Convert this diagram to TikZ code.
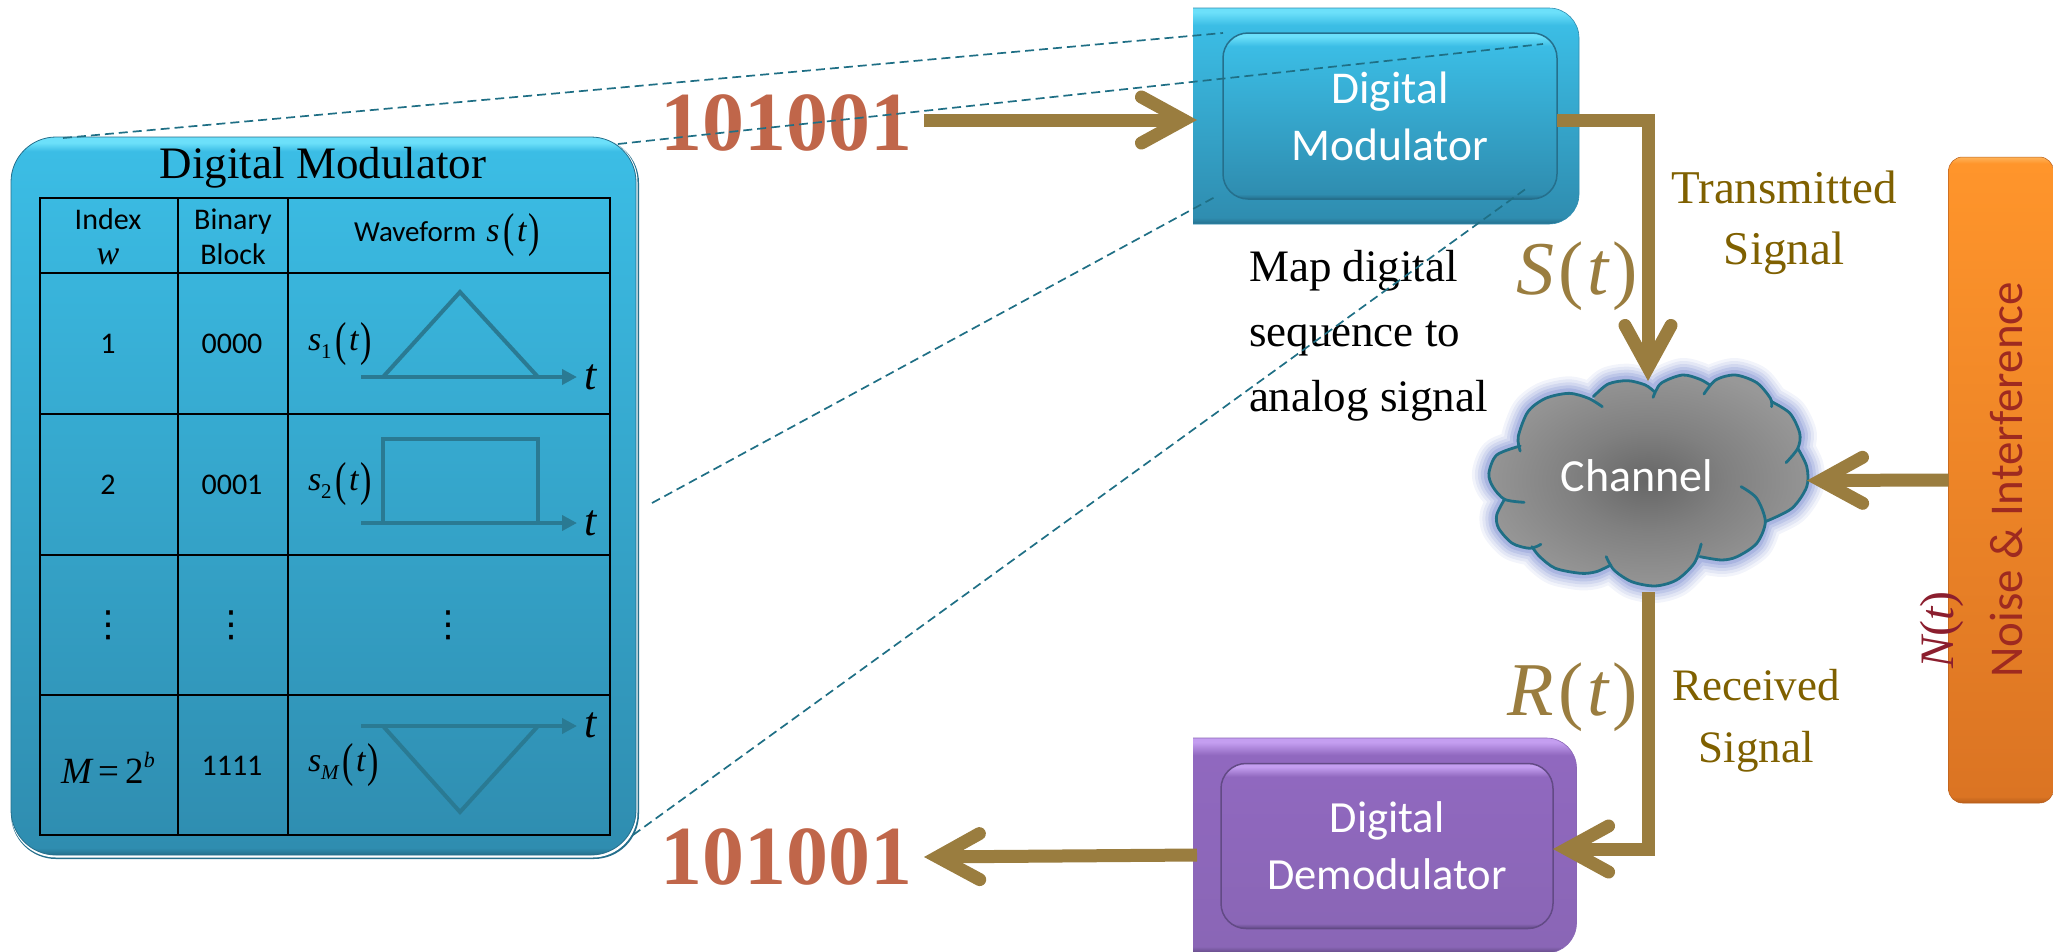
\documentclass[tikz,border=0pt]{standalone}
\usepackage{fontspec}
\usepackage{graphicx}
\usetikzlibrary{arrows.meta}
\setmainfont{Carlito}
\newfontfamily\srf{Liberation Serif}
\newfontfamily\djv{DejaVu Sans}
\definecolor{dashc}{HTML}{1F6F85}
\definecolor{wavec}{HTML}{2A7A93}
\definecolor{goldc}{HTML}{9A7D3F}
\definecolor{goldt}{HTML}{7F6000}
\definecolor{bitc}{HTML}{C0664A}
\definecolor{noisec}{HTML}{9E2A20}
\definecolor{nc}{HTML}{8B1E2E}
\definecolor{bA}{HTML}{256F8C}\definecolor{bB}{HTML}{2F8DB0}\definecolor{bC}{HTML}{3BBDE5}\definecolor{bD}{HTML}{6CE0FA}
\definecolor{pA}{HTML}{624A85}\definecolor{pB}{HTML}{8A66B6}\definecolor{pC}{HTML}{9068BF}\definecolor{pD}{HTML}{C49EF0}
\definecolor{oA}{HTML}{B85F1C}\definecolor{oB}{HTML}{DB7423}\definecolor{oC}{HTML}{FF952B}\definecolor{oD}{HTML}{FFB45A}
\definecolor{cA}{HTML}{666666}\definecolor{cB}{HTML}{808080}\definecolor{cC}{HTML}{989898}
\definecolor{cloudl}{HTML}{1F6F85}\definecolor{glow}{HTML}{8494D4}
\pgfdeclareverticalshading{bluebev}{100bp}{color(0bp)=(bA);color(25bp)=(bA);color(26.5bp)=(bB);color(71bp)=(bC);color(74bp)=(bD);color(75bp)=(bD);color(100bp)=(bD)}
\pgfdeclareverticalshading{tblbev}{100bp}{color(0bp)=(bA);color(25bp)=(bA);color(25.5bp)=(bB);color(74bp)=(bC);color(74.6bp)=(bD);color(75bp)=(bD);color(100bp)=(bD)}
\pgfdeclareverticalshading{purbev}{100bp}{color(0bp)=(pA);color(25bp)=(pA);color(26.5bp)=(pB);color(71bp)=(pC);color(74bp)=(pD);color(75bp)=(pD);color(100bp)=(pD)}
\pgfdeclareverticalshading{orbev}{100bp}{color(0bp)=(oA);color(25bp)=(oA);color(25.5bp)=(oB);color(74.5bp)=(oC);color(75bp)=(oD);color(100bp)=(oD)}
\pgfdeclareradialshading{cloudsh}{\pgfpoint{0bp}{0bp}}{color(0bp)=(cA);color(12bp)=(cB);color(27bp)=(cC);color(50bp)=(cC)}
\tikzset{
 every node/.style={inner sep=0pt,outer sep=0pt},
 bluebox/.style={rounded corners=#1,shading=bluebev,draw=bA,line width=1.5pt},
 purbox/.style={rounded corners=#1,shading=purbev,draw=pA,line width=1.5pt},
 blueout/.style={rounded corners=#1,shading=bluebev,draw=bB,line width=.6pt},
 purout/.style={rounded corners=#1,shading=purbev,draw=pB,line width=.6pt},
 wh/.style={text=white,align=center,font=\fontsize{45.5}{57}\selectfont},
 cell/.style={font=\fontsize{30}{36}\selectfont,align=center},
 dotc/.style={font=\djv\fontsize{36}{36}\selectfont},
 ser/.style={font=\srf\fontsize{#1}{#1}\selectfont},
 grid/.style={draw=black,line width=2pt},
 wave/.style={draw=wavec,line width=4pt,line join=miter},
 waveax/.style={draw=wavec,line width=4pt,-{Triangle[length=15pt,width=15pt]}},
 conn/.style={draw=goldc,line width=13pt,line join=miter,-{Straight Barb[length=42pt,width=46pt,line cap=round,line join=miter]}},
 dline/.style={draw=dashc,line width=1.7pt,dash pattern=on 9pt off 5pt},
 bits/.style={text=bitc,inner sep=12pt,font=\srf\bfseries\fontsize{84}{84}\selectfont},
 gold/.style={text=goldt,align=center,font=\srf\fontsize{47}{61}\selectfont},
 bigm/.style={text=goldc,font=\srf\fontsize{76}{76}\selectfont},
 lobe/.style={draw=cloudl,line width=2.8pt,line cap=round},
 tlab/.style={font=\srf\itshape\fontsize{44}{44}\selectfont},
 siglab/.style={font=\fontsize{34}{34}\selectfont,anchor=west}
}
\newcommand{\sig}[2]{{\srf\itshape #1}\raisebox{-.25em}{\srf\fontsize{21}{21}\selectfont #2}\hspace{.12em}\raisebox{-.16em}{\scalebox{1}[1.4]{\srf(}}{\srf\itshape\hspace{.06em}t\hspace{.06em}}\raisebox{-.16em}{\scalebox{1}[1.4]{\srf)}}}
\def\cloudp{plot[smooth] coordinates {(205,318)(200,290)(225,215)(270,175)(330,160)(380,175)(395,180)} -- plot[smooth] coordinates {(395,170)(430,132)(480,122)(525,135)(548,155)} -- plot[smooth] coordinates {(548,155)(565,130)(620,105)(665,118)(690,135)} -- plot[smooth] coordinates {(690,135)(705,120)(755,105)(810,128)(848,185)} -- plot[smooth] coordinates {(848,185)(895,220)(920,280)(915,325)} -- plot[smooth] coordinates {(915,325)(938,380)(938,440)(900,505)(832,545)} -- plot[smooth] coordinates {(832,545)(810,610)(760,650)(720,660)(665,650)} -- plot[smooth] coordinates {(665,650)(650,670)(605,720)(550,738)(490,725)(437,675)} -- plot[smooth] coordinates {(437,675)(400,695)(360,700)(295,685)(255,650)(238,622)} -- plot[smooth] coordinates {(238,622)(230,625)(185,610)(150,565)(145,525)(165,478)} -- plot[smooth] coordinates {(165,478)(135,440)(125,400)(145,345)(205,318)} -- cycle}
\begin{document}
\begin{tikzpicture}[x=1pt,y=-1pt]
\useasboundingbox (0,0) rectangle (2053,951);
% big table panel
\fill[rounded corners=45pt,bA] (11,138) rectangle (639,859);
\fill[rounded corners=45pt,white] (11,137) rectangle (637.5,857.5);
\node[rounded corners=45pt,shading=tblbev,minimum width=625pt,minimum height=718pt,draw=bA,line width=.8pt] (panel) at (323.5,496) {};
\node[ser=45] (ptitle) at (323,168) {Digital Modulator};
\draw[grid] (40,198) rectangle (610,835);
\draw[grid] (40,273) -- (610,273) (40,414) -- (610,414) (40,555) -- (610,555) (40,695) -- (610,695);
\draw[grid] (177.5,198) -- (177.5,835) (288,198) -- (288,835);
\node[cell] (h1) at (108,237) {Index\\[-1pt]{\srf\itshape\fontsize{34}{34}\selectfont w}};
\node[cell] (h2) at (233,237) {Binary\\[-1pt]Block};
\node[font=\fontsize{29}{30}\selectfont] (h3) at (447,235) {Waveform\hspace{.35em}{\fontsize{34}{34}\selectfont\sig{s}{}}};
\node[cell] (a1) at (108,344) {1};
\node[cell] (b1) at (232,344) {0000};
\node[cell] (a2) at (108,485) {2};
\node[cell] (b2) at (232,485) {0001};
\node[dotc] (a3) at (108,625) {⋮};
\node[dotc] (b3) at (231,625) {⋮};
\node[dotc] (c3) at (448,625) {⋮};
\node[font=\srf\fontsize{37}{37}\selectfont] (a4) at (108,768) {{\itshape M}\,=\,2\raisebox{.45em}{\fontsize{22}{22}\selectfont\itshape b}};
\node[cell] (b4) at (232,766) {1111};
\node[siglab] (s1) at (308,344) {\sig{s}{1}};
\node[siglab] (s2) at (308,484) {\sig{s}{2}};
\node[siglab] (s3) at (308,765) {\sig{s}{\itshape M}\,};
\draw[waveax] (361,377) -- (577,377);
\draw[wave] (383,377) -- (460,292) -- (538,377);
\node[tlab] (t1) at (591,377) {t};
\draw[waveax] (361,523) -- (577,523);
\draw[wave] (383,523) -- (383,439) -- (538,439) -- (538,523);
\node[tlab] (t2) at (591,523) {t};
\draw[waveax] (361,726) -- (577,726);
\draw[wave] (383,726) -- (460,812) -- (538,726);
\node[tlab] (t3) at (591,725) {t};
% modulator block
\begin{scope}
\clip (1193,0) rectangle (2053,951);
\node[blueout=30pt,minimum width=486pt,minimum height=216pt] (modout) at (1336,116) {};
\node[purout=30pt,minimum width=483pt,minimum height=215pt] (demout) at (1335,845.5) {};
\end{scope}
\node[bluebox=25pt,wh,minimum width=334pt,minimum height=166pt] (modin) at (1390,116) {Digital\\Modulator};
\node[purbox=25pt,wh,font=\fontsize{44.5}{57}\selectfont,minimum width=332pt,minimum height=165pt] (demin) at (1387,846) {Digital\\Demodulator};
% noise
\node[rounded corners=14pt,shading=orbev,draw=oA,line width=.5pt,minimum width=105pt,minimum height=646pt] (noise) at (2001,480) {};
\node[rotate=90,text=noisec,font=\fontsize{47}{47}\selectfont] (ntext) at (2006,480) {Noise \& Interference};
\node[rotate=90,text=nc,font=\srf\fontsize{48}{48}\selectfont] (nt) at (1942,630) {{\itshape N}({\itshape t})};
% cloud
\node[minimum width=318pt,minimum height=211pt] (cloud) at (1648,480.5) {};
\begin{scope}[shift={(1440,340)},x=.391pt,y=-.3333pt]
\foreach \w/\o in {34/.10,28/.14,22/.18,16/.25,10/.35}
  \path[draw=glow,line width=\w pt,opacity=\o,line join=round] \cloudp;
\path[shading=cloudsh] \cloudp;
\draw[lobe] plot[smooth] coordinates {(205,333)(200,290)(225,215)(270,175)(330,160)(380,175)(415,200)};
\draw[lobe] plot[smooth] coordinates {(392,170)(430,132)(480,122)(525,135)(548,155)};
\draw[lobe] plot[smooth] coordinates {(545,172)(565,130)(620,105)(665,118)(690,135)};
\draw[lobe] plot[smooth] coordinates {(675,162)(705,120)(755,105)(810,128)(845,175)(848,200)};
\draw[lobe] plot[smooth] coordinates {(848,185)(895,220)(920,280)(915,325)(885,368)};
\draw[lobe] plot[smooth] coordinates {(915,325)(938,380)(938,440)(900,505)(832,545)};
\draw[lobe] plot[smooth] coordinates {(770,440)(810,475)(832,545)(810,610)(760,650)(720,660)(665,650)};
\draw[lobe] plot[smooth] coordinates {(668,612)(650,670)(605,720)(550,738)(490,725)(445,690)(425,650)};
\draw[lobe] plot[smooth] coordinates {(437,675)(400,695)(360,700)(295,685)(255,650)(235,620)};
\draw[lobe] plot[smooth] coordinates {(258,613)(230,625)(185,610)(150,565)(145,525)(165,478)};
\draw[lobe] plot[smooth] coordinates {(215,487)(165,478)(135,440)(125,400)(145,345)(205,318)};
\end{scope}
\node[text=white,font=\fontsize{46}{46}\selectfont] (chan) at (1637,476) {Channel};
% texts
\node[bits] (bits1) at (786,123) {101001};
\node[bits] (bits2) at (786,857) {101001};
\node[ser=45,align=left,anchor=west,font=\srf\fontsize{45}{65}\selectfont] (map) at (1249,336) {Map digital\\sequence to\\analog signal};
\node[gold] (tx) at (1784,223) {Transmitted\\Signal};
\node[gold,font=\srf\fontsize{45}{62}\selectfont] (rx) at (1756,721) {Received\\Signal};
\node[bigm] (st) at (1577,276) {{\itshape S}\hspace{.06em}(\hspace{.05em}{\itshape t}\hspace{.05em})};
\node[bigm] (rt) at (1573,697) {{\itshape R}\hspace{.06em}(\hspace{.05em}{\itshape t}\hspace{.05em})};
% connectors
\coordinate (modleft) at (1197,120);
\coordinate (demleft) at (1197,855);
\draw[conn] ([yshift=3pt]bits1.east) -- (modleft);
\draw[conn] ([yshift=-4pt]modin.east) -| ([yshift=-6pt]cloud.north);
\draw[conn] (noise.west) -- (cloud.east);
\draw[conn] ([yshift=-6pt]cloud.south) |- ([yshift=-3pt]demin.east);
\draw[conn] (demleft) -- (bits2.east);
% dashed zoom lines
\coordinate (d1a) at (63,138);\coordinate (d1b) at (1223,33);
\coordinate (d2a) at (618,144);\coordinate (d2b) at (1543,44);
\coordinate (d3a) at (652,503);\coordinate (d3b) at (1215,197);
\coordinate (d4a) at (633,835);\coordinate (d4b) at (1527,188);
\draw[dline] (d1a) -- (d1b);
\draw[dline] (d2a) -- (d2b);
\draw[dline] (d3a) -- (d3b);
\draw[dline] (d4a) -- (d4b);
\end{tikzpicture}
\end{document}
